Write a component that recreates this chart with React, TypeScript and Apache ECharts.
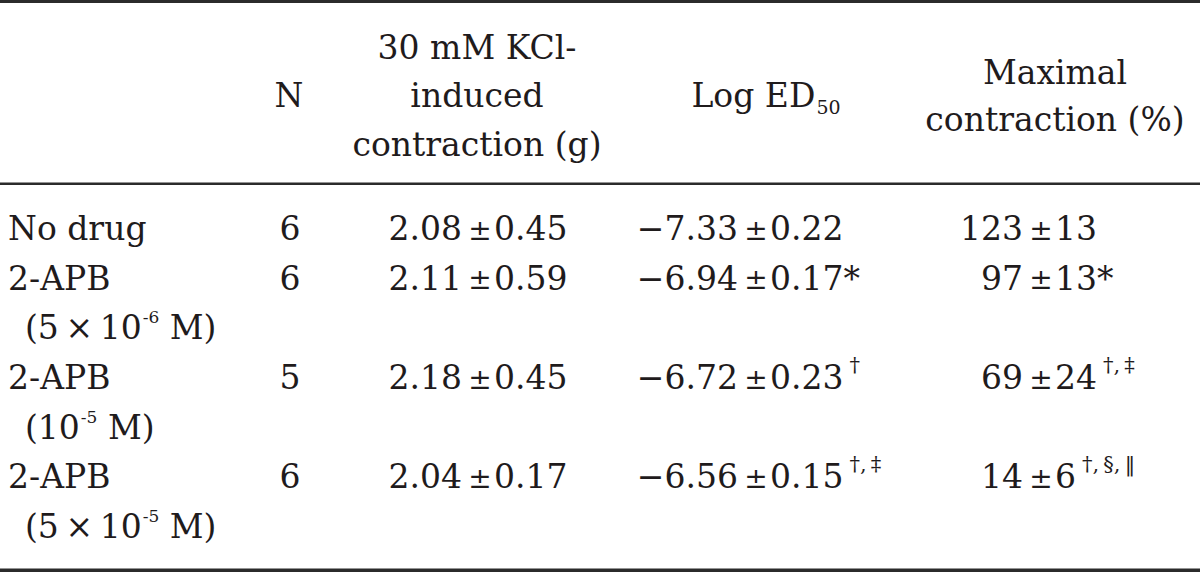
import React, { useEffect, useRef } from "react";
import * as echarts from "echarts";

// ---------- data ----------
const headerN = "N";
const headerKcl = ["30 mM KCl-", "induced", "contraction (g)"];
const headerLogMain = "Log ED";
const headerLogSub = "50";
const headerMax = ["Maximal", "contraction (%)"];

const groupLabels = ["No drug", "2-APB", "2-APB", "2-APB"];
const doseMantissa = ["", "5\u2009×\u2009", "", "5\u2009×\u2009"];
const doseExponent = ["", "-6", "-5", "-5"];
const nValues = [6, 6, 5, 6];
const kclMean = [2.08, 2.11, 2.18, 2.04];
const kclSem = [0.45, 0.59, 0.45, 0.17];
const logMean = [-7.33, -6.94, -6.72, -6.56];
const logSem = [0.22, 0.17, 0.23, 0.15];
const logStar = ["", "*", "", ""];
const logSup = ["", "", "†", "†,‡"];
const maxMean = [123, 97, 69, 14];
const maxSem = [13, 13, 24, 6];
const maxStar = ["", "*", "", ""];
const maxSup = ["", "", "†,‡", "†,§,‖"];

// ---------- layout ----------
const FAM = '"DejaVu Serif", serif';
const INK = "#1f1b1c";
const RULE = "#2b2b2b";
const FS = 33;
const PM = 28;
const SUP = 21;
const EXP = 17;
const OFF = 0.35;
const FIRST = 240;
const PITCH = 49.7;
const GAP_L = 18;
const GAP_R = 14;

let ctx: CanvasRenderingContext2D | null = null;
function tw(s: string, size: number): number {
  if (!ctx) ctx = document.createElement("canvas").getContext("2d");
  ctx!.font = `${size}px ${FAM}`;
  return ctx!.measureText(s).width;
}

function T(text: string, x: number, baseline: number, size: number, align = "left") {
  return {
    type: "text",
    x,
    y: baseline - OFF * size,
    silent: true,
    style: {
      text,
      font: `${size}px ${FAM}`,
      fill: INK,
      align,
      verticalAlign: "middle",
      textAlign: align,
      textVerticalAlign: "middle",
    },
  };
}

function fmt(v: number, d: number) {
  return (v < 0 ? "\u2212" : "") + Math.abs(v).toFixed(d);
}

function pmCell(els: any[], left: string, right: string, anchor: number, baseline: number, star: string, sup: string) {
  els.push(T(left, anchor - GAP_L, baseline, FS, "right"));
  els.push(T("±", anchor, baseline, PM, "center"));
  const r = right + star;
  els.push(T(r, anchor + GAP_R, baseline, FS, "left"));
  if (sup) {
    const s = sup.split(",").join(",\u2009");
    els.push(T(s, anchor + GAP_R + tw(r, FS) + 6, baseline - 17, SUP, "left"));
  }
}

function buildElements() {
  const els: any[] = [];
  // rules
  els.push({ type: "rect", silent: true, shape: { x: 0, y: 0, width: 1200, height: 3 }, style: { fill: RULE } });
  els.push({ type: "rect", silent: true, shape: { x: 0, y: 182.5, width: 1200, height: 2.5 }, style: { fill: RULE } });
  els.push({ type: "rect", silent: true, shape: { x: 0, y: 568.5, width: 1200, height: 3.5 }, style: { fill: RULE } });

  // header
  els.push(T(headerN, 289, 107, FS, "center"));
  const kclBase = [59, 107, 156];
  headerKcl.forEach((s, i) => els.push(T(s, 477, kclBase[i], FS, "center")));
  const wMain = tw(headerLogMain, FS);
  const wSub = tw(headerLogSub, 19);
  const lx = 766 - (wMain + 1 + wSub) / 2;
  els.push(T(headerLogMain, lx, 107, FS, "left"));
  els.push(T(headerLogSub, lx + wMain + 1, 114, 19, "left"));
  const maxBase = [84, 131];
  headerMax.forEach((s, i) => els.push(T(s, 1055, maxBase[i], FS, "center")));

  // body
  groupLabels.forEach((g, i) => {
    const line = i === 0 ? 0 : 2 * i - 1;
    const b = FIRST + line * PITCH;
    els.push(T(g, 8, b, FS, "left"));
    if (doseExponent[i]) {
      const db = FIRST + (line + 1) * PITCH;
      const head = "(" + doseMantissa[i] + "10";
      const x0 = 25;
      els.push(T(head, x0, db, FS, "left"));
      const xe = x0 + tw(head, FS) + 1;
      els.push(T(doseExponent[i], xe, db - 16, EXP, "left"));
      els.push(T(" M)", xe + tw(doseExponent[i], EXP), db, FS, "left"));
    }
    els.push(T(String(nValues[i]), 290, b, FS, "center"));
    pmCell(els, fmt(kclMean[i], 2), fmt(kclSem[i], 2), 480, b, "", "");
    pmCell(els, fmt(logMean[i], 2), fmt(logSem[i], 2), 756, b, logStar[i], logSup[i]);
    pmCell(els, String(maxMean[i]), String(maxSem[i]), 1041, b, maxStar[i], maxSup[i]);
  });
  return els;
}

export default function App() {
  const ref = useRef<HTMLDivElement>(null);
  useEffect(() => {
    document.body.style.margin = "0";
    const chart = echarts.init(ref.current!, null, { renderer: "svg" });
    chart.setOption({
      animation: false,
      backgroundColor: "#ffffff",
      graphic: { elements: buildElements() },
    });
    return () => chart.dispose();
  }, []);
  return <div ref={ref} style={{ width: 1200, height: 572 }} />;
}
